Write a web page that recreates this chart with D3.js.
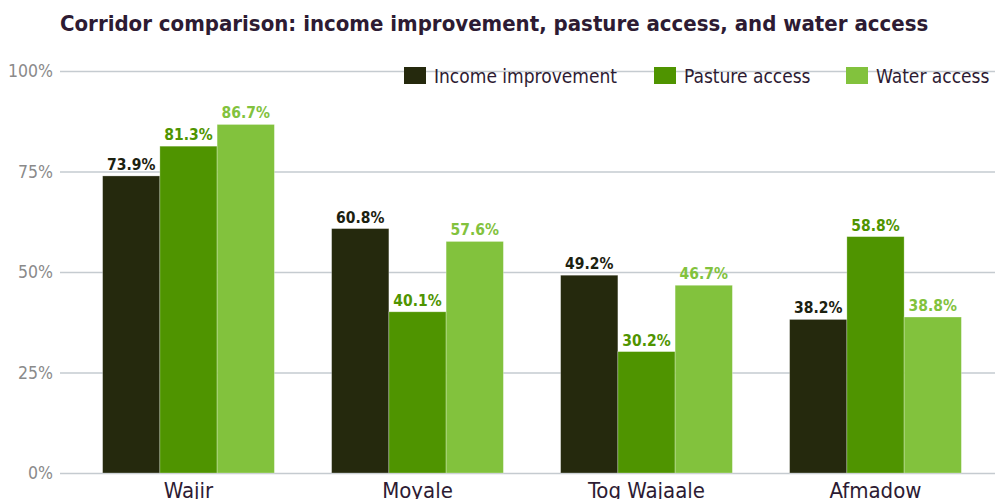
<!DOCTYPE html>
<html><head><meta charset="utf-8">
<script src="https://cdn.jsdelivr.net/npm/d3@7"></script>
<style>body{margin:0;background:#fff;} svg{display:block;} text{font-family:"DejaVu Sans Condensed","DejaVu Sans";font-stretch:condensed;}</style>
</head><body>
<script>
const categories = ["Wajir", "Moyale", "Tog Wajaale", "Afmadow"];
const seriesNames = ["Income improvement", "Pasture access", "Water access"];
const income = [73.9, 60.8, 49.2, 38.2];
const pasture = [81.3, 40.1, 30.2, 58.8];
const water = [86.7, 57.6, 46.7, 38.8];
const yTicks = [0, 25, 50, 75, 100];
const colors = ["#25290d", "#4f9400", "#82c23d"];
const labelColors = ["#1b2110", "#4f9400", "#82c23d"];

const W = 995, H = 499;
const svg = d3.select("body").append("svg").attr("width", W).attr("height", H);
const series = [income, pasture, water];

const y = d3.scaleLinear().domain([0, 100]).range([473, 71]);
const x = d3.scaleBand().domain(categories).range([74, 990]).paddingInner(0.25).paddingOuter(0.125);
const xs = d3.scaleBand().domain(seriesNames).range([0, x.bandwidth()]);

svg.append("text").attr("x", 60).attr("y", 31).text("Corridor comparison: income improvement, pasture access, and water access")
  .attr("font-weight", "bold").attr("font-size", 22).attr("fill", "#2d1b33");

const yAxis = svg.append("g").attr("transform", "translate(60,0)")
  .call(d3.axisLeft(y).tickValues(yTicks).tickSize(-935).tickFormat(d => d + "%").tickPadding(7));
yAxis.select(".domain").remove();
yAxis.selectAll(".tick line").attr("stroke", "#c5cbd0").attr("stroke-width", 1.5);
yAxis.selectAll(".tick text").attr("font-size", 17.5).attr("fill", "#8a8a8a");

const g = svg.append("g");
categories.forEach((c, i) => {
  seriesNames.forEach((s, j) => {
    const v = series[j][i];
    g.append("rect").attr("x", x(c) + xs(s)).attr("y", y(v)).attr("width", xs.bandwidth()).attr("height", y(0) - y(v))
      .attr("fill", colors[j]).attr("stroke", "#ffffff").attr("stroke-opacity", 0.35).attr("stroke-width", 0.8);
    g.append("text").attr("x", x(c) + xs(s) + xs.bandwidth() / 2).attr("y", y(v) - 6)
      .attr("text-anchor", "middle").attr("font-weight", "bold").attr("font-size", 15.5)
      .attr("fill", labelColors[j]).text(v.toFixed(1) + "%");
  });
});

const xAxis = svg.append("g").attr("transform", "translate(0,473)").call(d3.axisBottom(x).tickSize(0).tickPadding(9));
xAxis.select(".domain").remove();
xAxis.selectAll(".tick text").attr("font-size", 22).attr("fill", "#2d1b33");

const legendX = [404, 654, 846];
const lg = svg.append("g");
seriesNames.forEach((s, j) => {
  lg.append("rect").attr("x", legendX[j]).attr("y", 67).attr("width", 22).attr("height", 17).attr("fill", colors[j]);
  lg.append("text").attr("x", legendX[j] + 30).attr("y", 83).text(s)
    .attr("font-size", 19).attr("fill", "#2d1b33");
});
</script>
</body></html>
